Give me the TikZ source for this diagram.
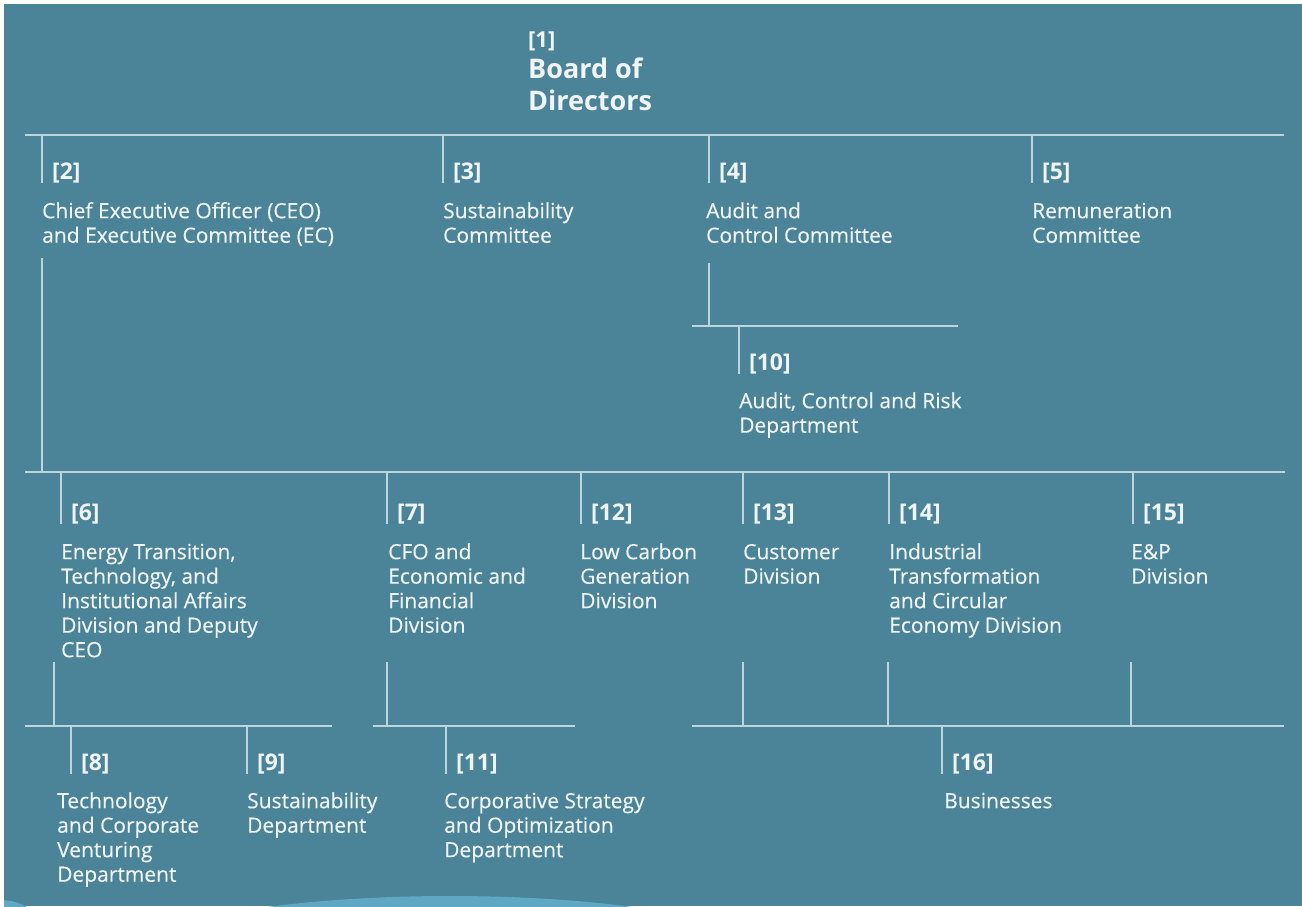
\documentclass[tikz,border=0pt]{standalone}
\usepackage{fontspec}
\setmainfont{Open Sans}
\newfontfamily\bodyfont[FakeBold=0.3]{Open Sans}
\usetikzlibrary{calc}
\definecolor{bgc}{RGB}{75,132,152}
\definecolor{linec}{RGB}{188,213,223}
\definecolor{txtc}{RGB}{240,245,247}
\definecolor{wavec}{RGB}{94,168,196}
\newcommand\mystrut{\rule{0pt}{17pt}}
\begin{document}
\begin{tikzpicture}[x=1pt,y=-1pt,
  conn/.style={draw=linec, line width=1.6pt},
  num/.style={anchor=base west, inner sep=0pt, text=txtc, font=\bfseries\fontsize{23}{23}\selectfont},
  body/.style={anchor=north west, inner sep=0pt, align=left, text=txtc, font=\bodyfont\fontsize{21}{24.5}\selectfont},
  ttl/.style={anchor=north west, inner sep=0pt, align=left, text=txtc, font=\bfseries\fontsize{27}{31.5}\selectfont}]
\useasboundingbox (0,0) rectangle (1302,906);
\fill[white] (0,0) rectangle (1302,906);
\fill[bgc] (4,4) rectangle (1302,906);
\begin{scope}
\clip (4,4) rectangle (1302,906);
\fill[wavec] (450,956) ellipse [x radius=316, y radius=60];
\fill[wavec] (0,930) ellipse [x radius=42, y radius=30];
\end{scope}

% Board
\node[num, font=\bfseries\fontsize{22}{22}\selectfont] (n1num) at (528,47) {[1]};
\node[ttl] (n1) at (528,58) {\rule{0pt}{20pt}Board of\\Directors};

% Row 1
\node[num] (n2num) at (52,179) {[2]};
\node[body] (n2) at (42,201) {\mystrut Chief Executive Officer (CEO)\\and Executive Committee (EC)};
\node[num] (n3num) at (453,179) {[3]};
\node[body] (n3) at (443,201) {\mystrut Sustainability\\Committee};
\node[num] (n4num) at (719,179) {[4]};
\node[body] (n4) at (706,201) {\mystrut Audit and\\Control Committee};
\node[num] (n5num) at (1042,179) {[5]};
\node[body] (n5) at (1032,201) {\mystrut Remuneration\\Committee};

\node[num] (n10num) at (749,370) {[10]};
\node[body] (n10) at (739,391) {\mystrut Audit, Control and Risk\\Department};

% Row 2
\node[num] (n6num) at (71,520) {[6]};
\node[body] (n6) at (61,542) {\mystrut Energy Transition,\\Technology, and\\Institutional Affairs\\Division and Deputy\\CEO};
\node[num] (n7num) at (397,520) {[7]};
\node[body] (n7) at (388,542) {\mystrut CFO and\\Economic and\\Financial\\Division};
\node[num] (n12num) at (591,520) {[12]};
\node[body] (n12) at (580,542) {\mystrut Low Carbon\\Generation\\Division};
\node[num] (n13num) at (753,520) {[13]};
\node[body] (n13) at (743,542) {\mystrut Customer\\Division};
\node[num] (n14num) at (899,520) {[14]};
\node[body] (n14) at (889,542) {\mystrut Industrial\\Transformation\\and Circular\\Economy Division};
\node[num] (n15num) at (1143,520) {[15]};
\node[body] (n15) at (1131,542) {\mystrut E\&P\\Division};

% Row 3
\node[num] (n8num) at (81,770) {[8]};
\node[body] (n8) at (57,791) {\mystrut Technology\\and Corporate\\Venturing\\Department};
\node[num] (n9num) at (257,770) {[9]};
\node[body] (n9) at (247,791) {\mystrut Sustainability\\Department};
\node[num] (n11num) at (456,770) {[11]};
\node[body] (n11) at (444,791) {\mystrut Corporative Strategy\\and Optimization\\Department};
\node[num] (n16num) at (952,770) {[16]};
\node[body] (n16) at (944,791) {\mystrut Businesses};

% bus coordinates
\coordinate (busAl) at (25,135);  \coordinate (busAr) at (1284,135);
\coordinate (busBl) at (25,472);  \coordinate (busBr) at (1285,472);
\coordinate (bus10l) at (692,326); \coordinate (bus10r) at (958,326);
\coordinate (busCl) at (25,726);  \coordinate (busCr) at (332,726);
\coordinate (busDl) at (373,726); \coordinate (busDr) at (575,726);
\coordinate (busEl) at (692,726); \coordinate (busEr) at (1284,726);
\coordinate (up2) at (42,258);
\coordinate (up4) at (709,263);
\coordinate (up6) at (54,662);
\coordinate (up7) at (387,662);
\coordinate (up13) at (743,662);
\coordinate (up14) at (888,662);
\coordinate (up15) at (1131,662);

\draw[conn] (busAl) -- (busAr);
\draw[conn] (busBl) -- (busBr);
\draw[conn] (bus10l) -- (bus10r);
\draw[conn] (busCl) -- (busCr);
\draw[conn] (busDl) -- (busDr);
\draw[conn] (busEl) -- (busEr);

% drops to labelled items
\foreach \k/\b in {2/busAl,3/busAl,4/busAl,5/busAl,10/bus10l,6/busBl,7/busBl,12/busBl,13/busBl,14/busBl,15/busBl,8/busCl,9/busCl,11/busDl,16/busEl}{
  \draw[conn] ($(\b -| n\k num.west)+(-10,0)$) -- ($(n\k num.west |- n\k num.south)+(-10,0)$);
}

% rising lines from parents to buses
\draw[conn] (up2) -- (up2 |- busBl);
\draw[conn] (up4) -- (up4 |- bus10l);
\draw[conn] (up6) -- (up6 |- busCl);
\draw[conn] (up7) -- (up7 |- busDl);
\draw[conn] (up13) -- (up13 |- busEl);
\draw[conn] (up14) -- (up14 |- busEl);
\draw[conn] (up15) -- (up15 |- busEl);
\end{tikzpicture}
\end{document}
